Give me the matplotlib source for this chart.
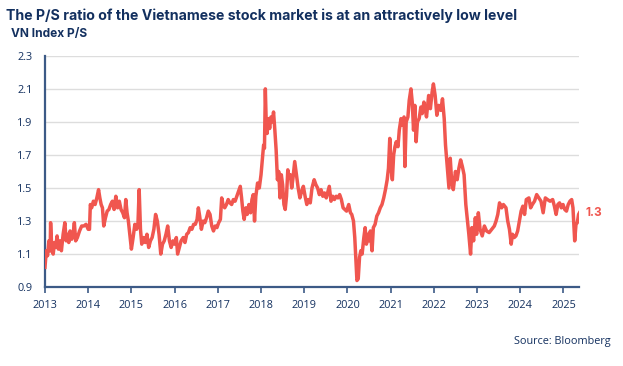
import matplotlib
matplotlib.use('Agg')
import matplotlib.pyplot as plt

# decimal years and P/S values
years = [
    2013.00, 2013.03, 2013.06, 2013.09, 2013.12, 2013.13, 2013.16, 2013.19, 2013.22, 2013.25,
    2013.28, 2013.31, 2013.35, 2013.38, 2013.42, 2013.46, 2013.49, 2013.52, 2013.55, 2013.58,
    2013.62, 2013.65, 2013.68, 2013.71, 2013.75, 2013.80, 2013.85, 2013.90, 2013.95, 2014.00,
    2014.03, 2014.05, 2014.08, 2014.12, 2014.16, 2014.20, 2014.24, 2014.27, 2014.30, 2014.33,
    2014.36, 2014.40, 2014.44, 2014.48, 2014.52, 2014.56, 2014.60, 2014.64, 2014.68, 2014.72,
    2014.76, 2014.80, 2014.84, 2014.87, 2014.90, 2014.93, 2014.97, 2015.00, 2015.04, 2015.08,
    2015.12, 2015.15, 2015.18, 2015.21, 2015.24, 2015.28, 2015.32, 2015.36, 2015.40, 2015.44,
    2015.48, 2015.52, 2015.56, 2015.60, 2015.64, 2015.68, 2015.72, 2015.76, 2015.80, 2015.84,
    2015.88, 2015.92, 2015.96, 2016.00, 2016.04, 2016.07, 2016.11, 2016.15, 2016.20, 2016.24,
    2016.28, 2016.32, 2016.36, 2016.40, 2016.44, 2016.48, 2016.52, 2016.55, 2016.58, 2016.62,
    2016.66, 2016.70, 2016.74, 2016.78, 2016.82, 2016.86, 2016.90, 2016.94, 2016.98, 2017.02,
    2017.06, 2017.09, 2017.12, 2017.16, 2017.20, 2017.24, 2017.28, 2017.32, 2017.36, 2017.40,
    2017.44, 2017.48, 2017.52, 2017.55, 2017.58, 2017.61, 2017.65, 2017.68, 2017.72, 2017.76,
    2017.79, 2017.82, 2017.85, 2017.88, 2017.92, 2017.96, 2018.00, 2018.04, 2018.06, 2018.08,
    2018.10, 2018.12, 2018.14, 2018.17, 2018.20, 2018.23, 2018.26, 2018.29, 2018.32, 2018.35,
    2018.38, 2018.41, 2018.44, 2018.47, 2018.50, 2018.53, 2018.56, 2018.59, 2018.62, 2018.65,
    2018.68, 2018.71, 2018.74, 2018.78, 2018.82, 2018.86, 2018.90, 2018.94, 2018.98,
    2019.02, 2019.06, 2019.10, 2019.14, 2019.18, 2019.23, 2019.27, 2019.31, 2019.35, 2019.39,
    2019.43, 2019.47, 2019.51, 2019.55, 2019.58, 2019.62, 2019.66, 2019.70, 2019.74, 2019.78,
    2019.82, 2019.86, 2019.90, 2019.94, 2019.98, 2020.03, 2020.07, 2020.10, 2020.14, 2020.17,
    2020.20, 2020.22, 2020.25, 2020.28, 2020.31, 2020.34, 2020.38, 2020.41, 2020.44, 2020.47,
    2020.50, 2020.53, 2020.57, 2020.60, 2020.64, 2020.68, 2020.72, 2020.76, 2020.80, 2020.84,
    2020.88, 2020.92, 2020.95, 2020.98, 2021.01, 2021.04, 2021.07, 2021.10, 2021.13, 2021.17,
    2021.20, 2021.24, 2021.27, 2021.31, 2021.33, 2021.36, 2021.40, 2021.43, 2021.47, 2021.50,
    2021.53, 2021.56, 2021.59, 2021.62, 2021.66, 2021.70, 2021.73, 2021.77, 2021.80, 2021.83,
    2021.88, 2021.92, 2021.96, 2021.99, 2022.03, 2022.07, 2022.11, 2022.16, 2022.20, 2022.24,
    2022.27, 2022.31, 2022.35, 2022.38, 2022.41, 2022.45, 2022.50, 2022.54, 2022.58, 2022.62,
    2022.66, 2022.70, 2022.74, 2022.78, 2022.81, 2022.85, 2022.88, 2022.92, 2022.96, 2022.99,
    2023.03, 2023.07, 2023.12, 2023.17, 2023.22, 2023.28, 2023.34, 2023.40, 2023.44, 2023.48,
    2023.52, 2023.57, 2023.61, 2023.67, 2023.71, 2023.75, 2023.79, 2023.82, 2023.86, 2023.90,
    2023.94, 2023.98, 2024.02, 2024.06, 2024.10, 2024.14, 2024.20, 2024.24, 2024.28, 2024.33,
    2024.38, 2024.43, 2024.48, 2024.53, 2024.58, 2024.63, 2024.69, 2024.75, 2024.79, 2024.83,
    2024.87, 2024.91, 2024.95, 2024.99, 2025.03, 2025.07, 2025.11, 2025.15, 2025.19, 2025.22,
    2025.26, 2025.29, 2025.32, 2025.35, 2025.37,
]
ps_ratio = [
    1.02, 1.12, 1.09, 1.18, 1.12, 1.29, 1.12, 1.10, 1.17, 1.14,
    1.21, 1.13, 1.18, 1.12, 1.22, 1.29, 1.18, 1.22, 1.17, 1.24,
    1.19, 1.22, 1.29, 1.18, 1.20, 1.24, 1.27, 1.27, 1.28, 1.25,
    1.25, 1.40, 1.38, 1.42, 1.40, 1.44, 1.49, 1.44, 1.40, 1.38,
    1.27, 1.32, 1.36, 1.37, 1.40, 1.42, 1.37, 1.45, 1.38, 1.42,
    1.37, 1.35, 1.32, 1.43, 1.35, 1.30, 1.20, 1.13, 1.20, 1.28,
    1.25, 1.27, 1.49, 1.25, 1.16, 1.20, 1.17, 1.22, 1.14, 1.18,
    1.20, 1.25, 1.34, 1.30, 1.22, 1.10, 1.16, 1.18, 1.22, 1.27,
    1.18, 1.14, 1.18, 1.16, 1.20, 1.10, 1.14, 1.18, 1.20, 1.17,
    1.22, 1.23, 1.26, 1.25, 1.28, 1.28, 1.31, 1.38, 1.33, 1.25,
    1.30, 1.29, 1.32, 1.36, 1.34, 1.27, 1.24, 1.27, 1.26, 1.29,
    1.31, 1.44, 1.40, 1.38, 1.40, 1.43, 1.41, 1.40, 1.43, 1.42,
    1.45, 1.48, 1.51, 1.44, 1.36, 1.31, 1.38, 1.34, 1.40, 1.35,
    1.43, 1.46, 1.30, 1.45, 1.53, 1.50, 1.58, 1.70, 1.76, 1.74,
    2.10, 1.90, 1.83, 1.92, 1.86, 1.93, 1.90, 1.96, 1.85, 1.73,
    1.55, 1.60, 1.44, 1.58, 1.52, 1.40, 1.37, 1.45, 1.61, 1.56,
    1.58, 1.50, 1.56, 1.66, 1.58, 1.50, 1.44, 1.48, 1.51,
    1.45, 1.40, 1.43, 1.41, 1.50, 1.55, 1.52, 1.50, 1.46, 1.49,
    1.45, 1.47, 1.44, 1.48, 1.51, 1.42, 1.45, 1.43, 1.45, 1.44,
    1.46, 1.43, 1.38, 1.37, 1.36, 1.40, 1.35, 1.34, 1.30, 1.20,
    1.05, 0.94, 0.95, 1.08, 1.12, 1.10, 1.20, 1.26, 1.16, 1.22,
    1.18, 1.24, 1.12, 1.26, 1.28, 1.33, 1.35, 1.38, 1.40, 1.44,
    1.49, 1.55, 1.62, 1.80, 1.62, 1.55, 1.70, 1.75, 1.78, 1.75,
    1.85, 1.92, 1.88, 1.93, 1.63, 1.90, 1.93, 2.03, 2.10, 2.02,
    1.85, 2.00, 1.78, 1.90, 1.92, 1.99, 1.95, 2.02, 1.98, 1.93,
    2.06, 1.98, 2.08, 2.13, 2.06, 1.94, 2.00, 1.97, 2.04, 1.92,
    1.76, 1.63, 1.50, 1.68, 1.55, 1.49, 1.60, 1.55, 1.62, 1.67,
    1.63, 1.58, 1.40, 1.30, 1.22, 1.10, 1.26, 1.18, 1.32, 1.22,
    1.35, 1.25, 1.21, 1.27, 1.24, 1.23, 1.25, 1.27, 1.30, 1.34,
    1.41, 1.38, 1.40, 1.38, 1.30, 1.25, 1.16, 1.22, 1.20, 1.21,
    1.24, 1.30, 1.36, 1.39, 1.34, 1.43, 1.44, 1.38, 1.40, 1.42,
    1.46, 1.44, 1.42, 1.35, 1.44, 1.43, 1.42, 1.43, 1.39, 1.34,
    1.40, 1.41, 1.38, 1.40, 1.37, 1.36, 1.40, 1.42, 1.43, 1.38,
    1.18, 1.28, 1.29, 1.34, 1.35,
]
year_ticks = list(range(2013, 2026))
y_ticks = [0.9, 1.1, 1.3, 1.5, 1.7, 1.9, 2.1, 2.3]
last_label = '1.3'

navy = '#13305f'
axis_col = '#3c5a86'
line_col = '#f0564f'

fig = plt.figure(figsize=(6.23, 3.66), dpi=100)
ax = fig.add_axes([0.0722, 0.2155, 0.8572, 0.632])

ax.plot(years, ps_ratio, color=line_col, linewidth=2.5, solid_joinstyle='round', zorder=3)

ax.set_xlim(2013, 2025.36)
ax.set_ylim(0.9, 2.3)
ax.set_xticks(year_ticks)
ax.set_xticklabels([str(y) for y in year_ticks])
ax.set_yticks(y_ticks)
ax.set_yticklabels([f'{v:.1f}' for v in y_ticks])
ax.grid(axis='y', color='#dddddd', linewidth=1.0, zorder=0)
ax.set_axisbelow(True)

for s in ['top', 'right']:
    ax.spines[s].set_visible(False)
for s in ['left', 'bottom']:
    ax.spines[s].set_color(axis_col)
    ax.spines[s].set_linewidth(1.6)
ax.tick_params(axis='x', length=4, width=1.2, color=axis_col, labelsize=7.8,
               labelcolor=navy, pad=5)
ax.tick_params(axis='y', length=0, labelsize=7.8, labelcolor=navy, pad=9)
for lab in ax.get_xticklabels() + ax.get_yticklabels():
    lab.set_family('Open Sans')

ax.text(1.012, 1.35, last_label, transform=ax.get_yaxis_transform(), color=line_col,
        fontsize=8.5, fontweight='bold', va='center', ha='left', family='Inter')

fig.text(0.010, 0.978, 'The P/S ratio of the Vietnamese stock market is at an attractively low level',
         color=navy, fontsize=10.2, fontweight='bold', va='top', ha='left', family='Inter')
fig.text(0.017, 0.908, 'VN Index P/S', color=navy, fontsize=8.6, fontweight='bold',
         va='center', ha='left', family='Inter')
fig.text(0.980, 0.068, 'Source: Bloomberg', color=navy, fontsize=7.8,
         va='center', ha='right', family='Open Sans')

fig.savefig('out.png', dpi=100, facecolor='white')
